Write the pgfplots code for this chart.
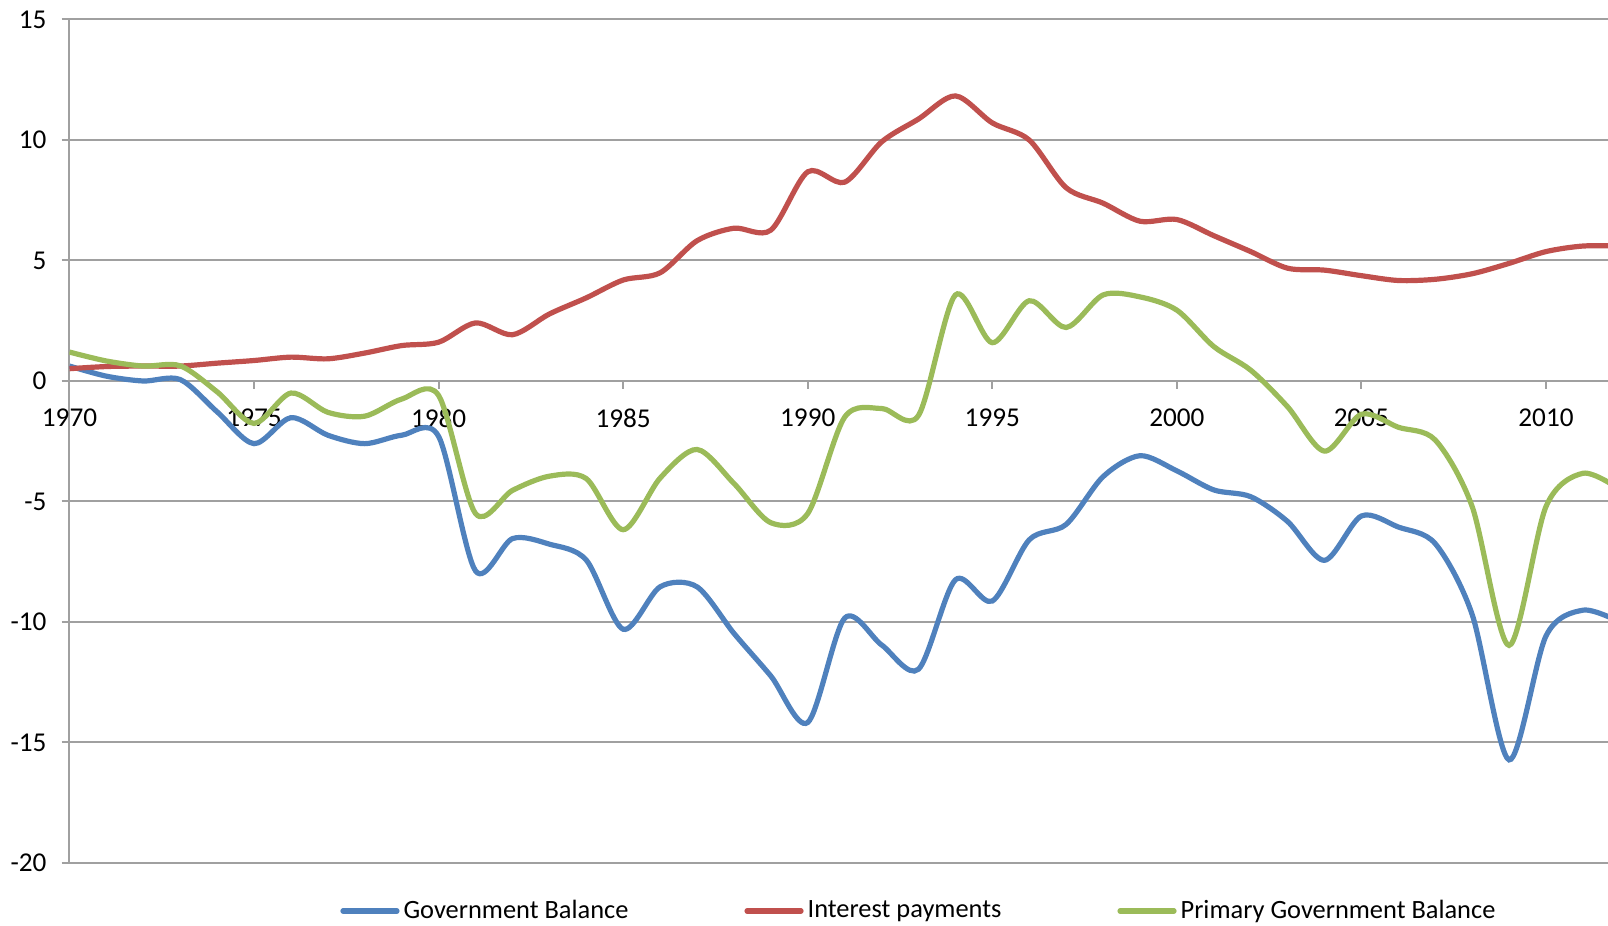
\documentclass[border=0pt]{standalone}
\usepackage{fontspec}
\setmainfont{Carlito}
\usepackage{pgfplots}
\pgfplotsset{compat=1.18}
\usepackage{pgfplotstable}
\usetikzlibrary{calc}
\definecolor{gridgray}{HTML}{A0A0A0}
\definecolor{gbblue}{HTML}{4F81BD}
\definecolor{ipred}{HTML}{C0504D}
\definecolor{pgbgreen}{HTML}{9BBB59}

\pgfplotstableread{
year GB IP PGB
1970 0.62 0.51 1.2
1971 0.2 0.6 0.83
1972 0.0 0.62 0.62
1973 0.06 0.62 0.63
1974 -1.28 0.74 -0.45
1975 -2.6 0.85 -1.76
1976 -1.52 0.99 -0.5
1977 -2.25 0.92 -1.3
1978 -2.6 1.16 -1.46
1979 -2.25 1.47 -0.75
1980 -2.3 1.61 -0.6
1981 -7.88 2.41 -5.5
1982 -6.54 1.92 -4.54
1983 -6.77 2.78 -3.95
1984 -7.43 3.45 -4.05
1985 -10.3 4.19 -6.17
1986 -8.54 4.49 -4.03
1987 -8.54 5.82 -2.84
1988 -10.47 6.34 -4.25
1989 -12.24 6.26 -5.88
1990 -14.17 8.68 -5.5
1991 -9.84 8.25 -1.5
1992 -10.95 9.92 -1.14
1993 -11.96 10.87 -1.43
1994 -8.25 11.83 3.57
1995 -9.13 10.71 1.59
1996 -6.59 10.0 3.33
1997 -5.95 8.02 2.22
1998 -3.97 7.38 3.57
1999 -3.1 6.63 3.49
2000 -3.73 6.7 2.94
2001 -4.52 6.03 1.43
2002 -4.8 5.37 0.45
2003 -5.83 4.68 -1.07
2004 -7.44 4.6 -2.91
2005 -5.6 4.37 -1.38
2006 -6.06 4.17 -1.92
2007 -6.75 4.22 -2.45
2008 -9.69 4.45 -5.21
2009 -15.72 4.88 -10.97
2010 -10.58 5.37 -5.21
2011 -9.51 5.6 -3.83
2012 -10.0 5.6 -4.5
}\datatable

\begin{document}
\begin{tikzpicture}
\begin{axis}[
  scale only axis,
  width=769.25pt, height=421.75pt,
  xmin=1970, xmax=2011.68, ymin=-20, ymax=15,
  axis x line=middle, axis y line=left,
  axis line style={-, draw=gridgray, line width=1pt},
  hide obscured x ticks=false, hide obscured y ticks=false,
  xtick={1970,1975,...,2010},
  xticklabels={1970,1975,1980,1985,1990,1995,2000,2005,2010},
  ytick={-20,-15,...,15},
  yticklabels={-20,-15,-10,-5,0,5,10,15},
  ymajorgrids,
  major grid style={gridgray, line width=1pt},
  tick style={gridgray, line width=1pt},
  tick align=outside,
  major tick length=4pt,
  tick label style={font=\fontsize{13.6}{15}\selectfont, text=black},
  x tick label style={yshift=-6.5pt},
  y tick label style={xshift=-4pt},
  legend columns=3,
  legend style={at={(0.1758,-0.0569)}, anchor=west, draw=none, fill=none,
    font=\fontsize{13.2}{15}\selectfont,
    /tikz/every even column/.append style={column sep=56pt},
    inner sep=0pt},
  legend image code/.code={\draw[#1, line width=2.6pt, line cap=round] (0pt,0pt) -- (27pt,0pt);},
  every axis plot/.append style={line width=2.6pt, smooth, no markers},
  clip=true,
]
\addplot[gbblue] table[x=year, y=GB] {\datatable};
\addlegendentry{Government Balance}
\addplot[ipred] table[x=year, y=IP] {\datatable};
\addlegendentry{Interest payments}
\addplot[pgbgreen] table[x=year, y=PGB] {\datatable};
\addlegendentry{Primary Government Balance}
\coordinate (bl) at (rel axis cs:0,0);
\coordinate (tr) at (rel axis cs:1,1);
\end{axis}
\pgfresetboundingbox
\path[use as bounding box] ($(bl)+(-34.75pt,-31.5pt)$) rectangle ($(tr)+(0pt,9.75pt)$);
\end{tikzpicture}
\end{document}
